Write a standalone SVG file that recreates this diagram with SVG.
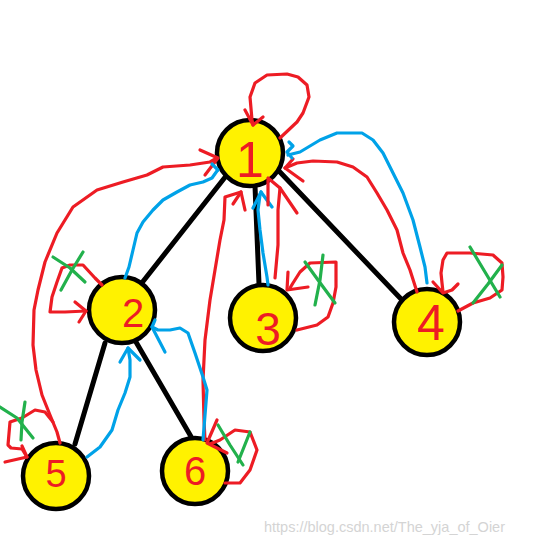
<svg xmlns="http://www.w3.org/2000/svg" width="539" height="545" viewBox="0 0 539 545">
<style>
.edge{stroke:#000;stroke-width:5;stroke-linecap:round;fill:none}
.node circle{fill:#FFF200;stroke:#000;stroke-width:4.5}
.lbl{fill:#ED1C24;font-family:"Liberation Sans",Arial,sans-serif;text-anchor:middle}
.r,.b,.g{fill:none;stroke-width:3.2;stroke-linecap:round;stroke-linejoin:round}
.r{stroke:#ED1C24}
.b{stroke:#00A2E8}
.g{stroke:#22B14C}
.wm{fill:#d4d4d4;font-family:"Liberation Sans",Arial,sans-serif;font-size:14.5px}
</style>
<rect width="539" height="545" fill="#fff"/>
<g id="edges">
<line class="edge" x1="226" y1="176" x2="141" y2="284"/>
<line class="edge" x1="255" y1="186" x2="259" y2="284"/>
<line class="edge" x1="278" y1="170" x2="402" y2="300"/>
<line class="edge" x1="105" y1="343" x2="75" y2="444"/>
<line class="edge" x1="136" y1="342" x2="193" y2="440"/>
</g>
<g id="node1" class="node"><circle cx="250" cy="153" r="33"/><text class="lbl" x="250" y="177" font-size="50">1</text></g>
<g id="node2" class="node"><circle cx="122" cy="310" r="33"/><text class="lbl" x="133" y="327" font-size="40">2</text></g>
<g id="node3" class="node"><circle cx="263" cy="318" r="33"/><text class="lbl" x="268" y="345" font-size="46">3</text></g>
<g id="node4" class="node"><circle cx="427" cy="322" r="33"/><text class="lbl" x="431" y="340" font-size="50">4</text></g>
<g id="node5" class="node"><circle cx="56" cy="476" r="33"/><text class="lbl" x="56" y="487" font-size="38">5</text></g>
<g id="node6" class="node"><circle cx="195" cy="471" r="33"/><text class="lbl" x="195" y="485" font-size="40">6</text></g>
<g id="connectors">
<!-- node 1 self loop -->
<polyline class="r" points="280,138 297,122 303,113 309,97 307,85 298,77 287,74 267,75 255,83 250,97 252,120 253,125"/>
<polyline class="r" points="245,110 253,125 263,117"/>
<!-- 5 -> 1 red -->
<polyline class="r" points="60,443 57,432 50,415 42,395 36,370 33,345 34,310 38,290 45,262 57,233 73,207 97,190 123,182 147,175 163,167 190,165 210,162 217,158"/>
<polyline class="r" points="200,150 218,158 205,175"/>
<!-- 2 self loop -->
<polyline class="r" points="102,285 95,278 83,265 70,265 62,268 57,282 52,297 50,312 65,312 86,311"/>
<polyline class="r" points="75,302 86,311 79,322"/>
<polyline class="g" points="53,257 70,268 85,282"/>
<polyline class="g" points="83,252 72,270 61,290"/>
<!-- 2 -> 1 blue -->
<polyline class="b" points="125,278 129,267 133,250 137,233 143,222 153,210 163,200 177,192 190,185 203,182 212,178 217,171"/>
<polyline class="b" points="212,164 218,170"/>
<!-- 6 -> 1 red -->
<polyline class="r" points="205,440 204,420 203,380 205,340 210,300 215,270 220,240 224,220 225,197 241,192 245,210"/>
<polyline class="r" points="241,192 233,204"/>
<!-- 3 -> 1 blue -->
<polyline class="b" points="268,285 267,277 263,253 260,230 258,210 260,195 261,192"/>
<polyline class="b" points="253,208 261,192 272,207"/>
<!-- 3 -> 1 red -->
<polyline class="r" points="275,278 278,245 278,210 280,188 268,178 268,205"/>
<polyline class="r" points="280,188 297,213"/>
<!-- 4 -> 1 red -->
<polyline class="r" points="417,292 410,270 403,253 397,230 387,210 377,193 367,177 353,167 337,162 313,161 297,163 285,168"/>
<polyline class="r" points="293,159 285,168 303,181"/>
<!-- 4 -> 1 blue -->
<polyline class="b" points="427,283 425,267 420,247 413,220 403,193 393,173 383,153 373,140 362,133 337,133 320,140 300,152 288,155"/>
<polyline class="b" points="289,142 293,146 287,152 292,158"/>
<!-- 3 self loop -->
<polyline class="r" points="297,330 317,325 328,317 333,303 336,287 336,262 310,263 300,272 293,283 290,288"/>
<polyline class="r" points="288,272 287,290 308,287"/>
<polyline class="g" points="305,262 318,280 335,303"/>
<polyline class="g" points="323,255 320,280 315,305"/>
<!-- 4 self loop -->
<polyline class="r" points="458,311 473,303 490,298 502,290 503,277 502,263 493,255 470,253 447,253 443,260 441,273 442,283 443,292"/>
<polyline class="r" points="433,282 443,293 452,290 458,284"/>
<polyline class="g" points="470,247 485,272 500,297"/>
<polyline class="g" points="502,265 488,284 473,303"/>
<!-- 5 -> 2 blue -->
<polyline class="b" points="87,457 100,447 112,430 118,410 125,393 130,377 130,360 128,348"/>
<polyline class="b" points="120,362 128,348 140,360"/>
<!-- 6 -> 2 blue -->
<polyline class="b" points="203,440 207,390 203,377 195,353 188,333 180,328 170,330 158,330 152,327"/>
<polyline class="b" points="155,320 152,327 165,352"/>
<!-- 6 self loop -->
<polyline class="r" points="225,483 240,483 250,470 257,450 250,432 235,430 220,440 210,444"/>
<polyline class="r" points="217,420 207,443 227,453"/>
<polyline class="g" points="218,425 230,445 243,465"/>
<polyline class="g" points="250,432 244,447 238,462"/>
<!-- 5 self loop -->
<polyline class="r" points="53,422 45,412 35,410 22,418 10,422 8,445 11,448 22,449 27,457"/>
<polyline class="r" points="22,446 27,457 5,462"/>
<polyline class="g" points="0,407 17,418 33,438"/>
<polyline class="g" points="25,402 22,422 21,440"/>
</g>
<text class="wm" x="264" y="532">https://blog.csdn.net/The_yja_of_Oier</text>
</svg>
